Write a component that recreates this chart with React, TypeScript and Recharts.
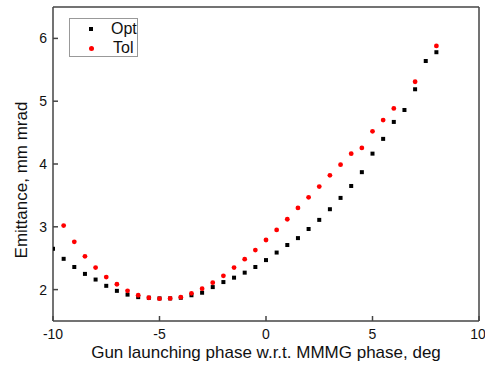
import React from "react";
import {
  ScatterChart,
  Scatter,
  XAxis,
  YAxis,
  Legend,
} from "recharts";

// phase (deg) and emittance (mm mrad) for the two settings
const optPhase = [
  -10, -9.5, -9, -8.5, -8, -7.5, -7, -6.5, -6, -5.5, -5, -4.5, -4, -3.5, -3,
  -2.5, -2, -1.5, -1, -0.5, 0, 0.5, 1, 1.5, 2, 2.5, 3, 3.5, 4, 4.5, 5, 5.5, 6,
  6.5, 7, 7.5, 8,
];
const optEmit = [
  2.65, 2.49, 2.36, 2.25, 2.16, 2.06, 1.98, 1.92, 1.88, 1.87, 1.86, 1.86, 1.87,
  1.91, 1.95, 2.04, 2.12, 2.19, 2.27, 2.36, 2.47, 2.59, 2.71, 2.82, 2.965, 3.11,
  3.28, 3.46, 3.65, 3.87, 4.165, 4.4, 4.67, 4.86, 5.19, 5.64, 5.78,
];

const tolPhase = [
  -9.5, -9, -8.5, -8, -7.5, -7, -6.5, -6, -5.5, -5, -4.5, -4, -3.5, -3, -2.5,
  -2, -1.5, -1, -0.5, 0, 0.5, 1, 1.5, 2, 2.5, 3, 3.5, 4, 4.5, 5, 5.5, 6, 7, 8,
];
const tolEmit = [
  3.02, 2.76, 2.53, 2.35, 2.2, 2.085, 1.98, 1.91, 1.87, 1.856, 1.86, 1.88, 1.94,
  2.015, 2.11, 2.22, 2.35, 2.485, 2.63, 2.79, 2.95, 3.12, 3.3, 3.47, 3.64, 3.82,
  3.99, 4.165, 4.256, 4.52, 4.7, 4.885, 5.31, 5.88,
];

const xTicks = [-10, -5, 0, 5, 10];
const yTicks = [2, 3, 4, 5, 6];

const optData = optPhase.map((x, i) => ({ x, y: optEmit[i] }));
const tolData = tolPhase.map((x, i) => ({ x, y: tolEmit[i] }));

const FONT = "'Liberation Sans', Arial, sans-serif";
const AXIS = "#444";

const Square = (props: any) => (
  <rect x={props.cx - 2} y={props.cy - 2} width={4} height={4} fill="#000" />
);
const Dot = (props: any) => (
  <circle cx={props.cx} cy={props.cy} r={2.4} fill="#ff0000" />
);

const YTitle = () => (
  <text
    x={27}
    y={180}
    transform="rotate(-90 27 180)"
    textAnchor="middle"
    fontSize={17}
    fontFamily={FONT}
    fill="#111"
  >
    Emittance, mm mrad
  </text>
);

const LegendBox = () => (
  <div
    style={{
      border: "1px solid #999",
      background: "#fff",
      width: 67,
      height: 37,
      fontFamily: FONT,
      fontSize: 16,
      color: "#111",
      position: "relative",
    }}
  >
    <div style={{ position: "absolute", left: 19, top: 8, width: 4, height: 4, background: "#000" }} />
    <div style={{ position: "absolute", left: 41, top: 1, lineHeight: "18px" }}>Opt</div>
    <div
      style={{
        position: "absolute",
        left: 19,
        top: 27,
        width: 5,
        height: 5,
        borderRadius: "50%",
        background: "#ff0000",
      }}
    />
    <div style={{ position: "absolute", left: 43, top: 20, lineHeight: "18px" }}>Tol</div>
  </div>
);

export default function App() {
  return (
    <div style={{ position: "absolute", left: 0, top: 0, background: "#fff" }}>
      <ScatterChart
        width={485}
        height={367}
        margin={{ top: 6, right: 5, bottom: 0, left: 0 }}
      >
        <XAxis
          xAxisId="bottom"
          type="number"
          dataKey="x"
          domain={[-10, 10]}
          ticks={xTicks}
          allowDataOverflow
          height={46}
          stroke={AXIS}
          strokeWidth={1.5}
          tickSize={-5}
          tickMargin={13}
          tick={{ fontSize: 14, fontFamily: FONT, fill: "#111" }}
          label={{
            value: "Gun launching phase w.r.t. MMMG phase, deg",
            position: "insideBottom",
            offset: 9,
            fontSize: 17,
            fontFamily: FONT,
            fill: "#111",
          }}
        />
        <XAxis
          xAxisId="top"
          orientation="top"
          type="number"
          dataKey="x"
          domain={[-10, 10]}
          ticks={xTicks}
          allowDataOverflow
          height={1}
          stroke={AXIS}
          strokeWidth={1.5}
          tickSize={-5}
          tick={false}
        />
        <YAxis
          yAxisId="left"
          type="number"
          dataKey="y"
          domain={[1.5, 6.5]}
          ticks={yTicks}
          allowDataOverflow
          width={53}
          stroke={AXIS}
          strokeWidth={1.5}
          tickSize={-5}
          tickMargin={11}
          tick={{ fontSize: 14, fontFamily: FONT, fill: "#111" }}
          label={{ content: <YTitle /> }}
        />
        <YAxis
          yAxisId="right"
          orientation="right"
          type="number"
          dataKey="y"
          domain={[1.5, 6.5]}
          ticks={yTicks}
          allowDataOverflow
          width={1}
          stroke={AXIS}
          strokeWidth={1.5}
          tickSize={-5}
          tick={false}
        />
        <Legend
          layout="horizontal"
          verticalAlign="middle"
          align="center"
          wrapperStyle={{ left: 69, top: 18, width: "auto" }}
          content={() => <LegendBox />}
        />
        <Scatter
          name="Opt"
          data={optData}
          xAxisId="bottom"
          yAxisId="left"
          shape={Square}
          isAnimationActive={false}
        />
        {/* top/right axes share the same scale, Tol is bound to them so the frame is drawn */}
        <Scatter
          name="Tol"
          data={tolData}
          xAxisId="top"
          yAxisId="right"
          shape={Dot}
          isAnimationActive={false}
        />
      </ScatterChart>
    </div>
  );
}
